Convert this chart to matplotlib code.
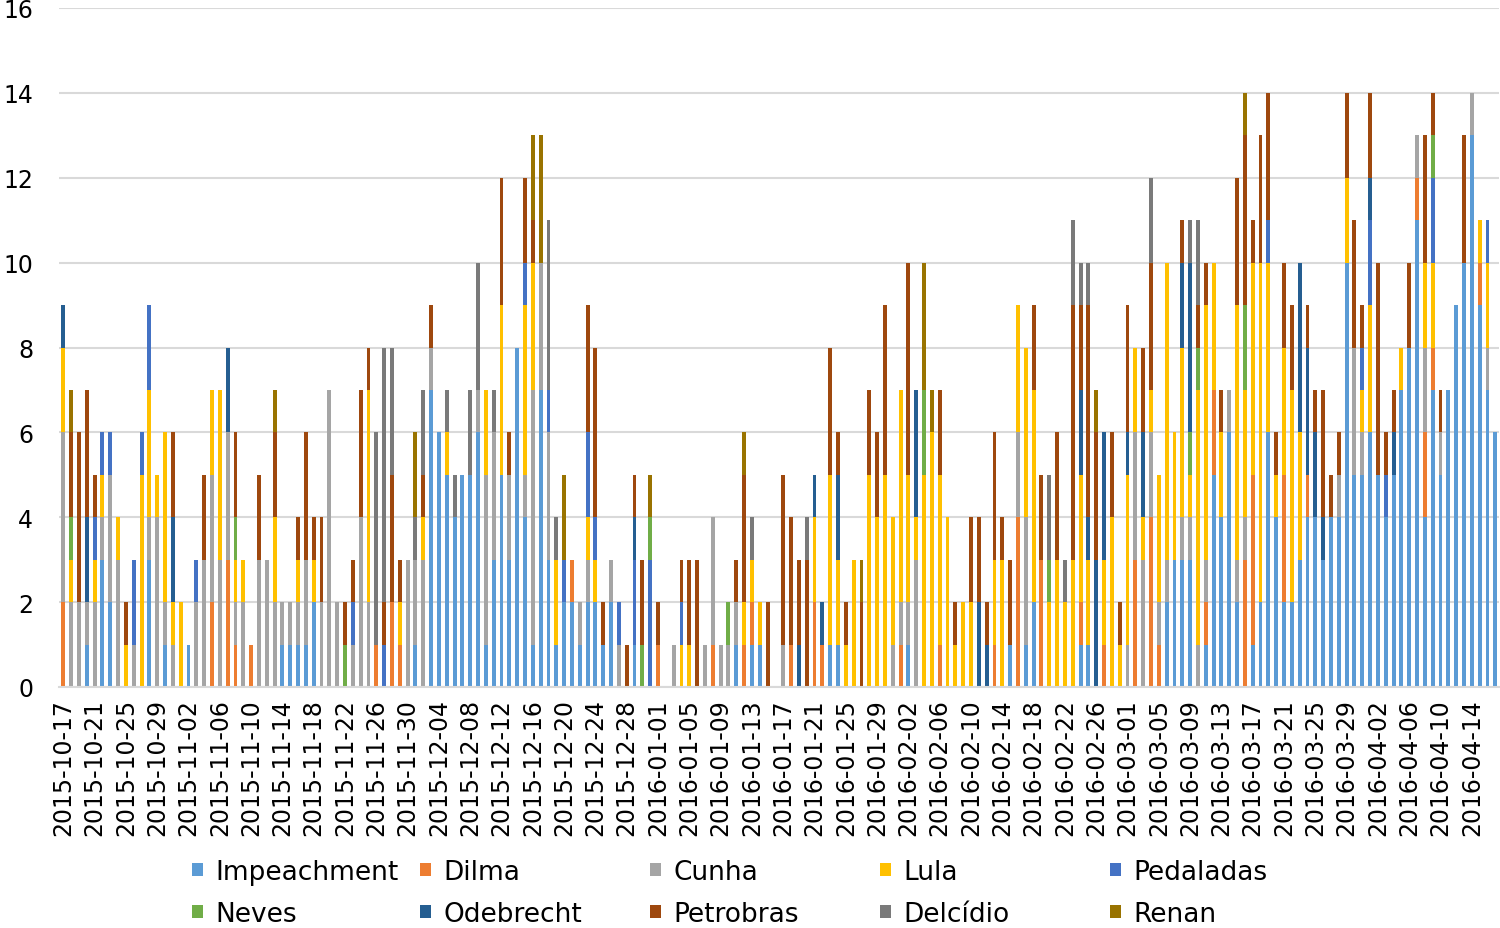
import numpy as np
import pandas as pd
import matplotlib
matplotlib.use('Agg')
import matplotlib.pyplot as plt

# daily counts, 2015-10-17 .. 2016-04-17
dates = pd.date_range('2015-10-17', periods=184)

impeachment = [
    0, 0, 0, 1, 0, 3, 2, 0, 0, 0,
    0, 3, 0, 1, 0, 0, 1, 0, 0, 0,
    0, 0, 0, 0, 0, 0, 0, 0, 1, 1,
    1, 1, 2, 0, 0, 0, 0, 0, 0, 0,
    0, 0, 0, 0, 0, 1, 0, 7, 6, 5,
    4, 5, 5, 6, 1, 3, 5, 3, 8, 4,
    1, 7, 3, 1, 2, 2, 1, 2, 2, 1,
    2, 0, 0, 1, 0, 0, 0, 0, 0, 0,
    0, 0, 0, 0, 0, 0, 1, 0, 1, 1,
    0, 0, 0, 0, 0, 0, 0, 0, 1, 1,
    0, 0, 0, 0, 0, 0, 0, 0, 1, 0,
    0, 0, 0, 0, 0, 0, 0, 0, 0, 0,
    0, 1, 0, 1, 2, 0, 0, 0, 0, 0,
    1, 1, 0, 0, 0, 0, 0, 0, 0, 0,
    0, 2, 3, 3, 3, 0, 1, 5, 4, 6,
    2, 0, 1, 2, 6, 4, 2, 2, 3, 4,
    4, 3, 4, 4, 10, 5, 5, 6, 5, 4,
    5, 7, 8, 11, 4, 7, 5, 7, 9, 10,
    13, 9, 7, 6]

dilma = [
    2, 0, 0, 0, 0, 0, 0, 0, 0, 0,
    0, 0, 0, 0, 0, 0, 0, 0, 0, 2,
    0, 3, 1, 0, 1, 0, 0, 0, 0, 0,
    0, 0, 0, 0, 0, 0, 0, 0, 0, 0,
    1, 0, 2, 1, 0, 0, 0, 0, 0, 0,
    0, 0, 0, 0, 0, 0, 0, 0, 0, 0,
    0, 0, 0, 0, 0, 1, 0, 0, 0, 0,
    0, 0, 0, 0, 0, 0, 1, 0, 0, 0,
    0, 0, 0, 1, 0, 0, 0, 1, 1, 0,
    0, 0, 0, 1, 0, 0, 2, 1, 0, 0,
    0, 0, 0, 0, 0, 0, 0, 1, 0, 0,
    0, 0, 1, 0, 0, 0, 0, 0, 0, 1,
    0, 0, 4, 0, 0, 3, 0, 0, 0, 0,
    1, 0, 0, 1, 0, 0, 0, 3, 0, 4,
    1, 0, 0, 0, 0, 0, 1, 2, 0, 0,
    0, 3, 4, 0, 0, 0, 3, 0, 0, 1,
    0, 0, 0, 0, 0, 0, 0, 0, 0, 0,
    0, 0, 0, 1, 2, 1, 0, 0, 0, 0,
    0, 1, 0, 0]

cunha = [
    4, 2, 2, 1, 2, 1, 3, 3, 0, 1,
    0, 1, 4, 1, 1, 0, 0, 2, 3, 3,
    3, 3, 1, 2, 0, 3, 3, 2, 1, 1,
    1, 2, 0, 2, 7, 2, 0, 1, 4, 2,
    0, 0, 0, 0, 3, 2, 3, 1, 0, 0,
    0, 0, 0, 1, 4, 3, 0, 2, 0, 1,
    6, 3, 3, 0, 0, 0, 1, 1, 0, 0,
    1, 1, 0, 0, 0, 0, 0, 0, 1, 0,
    0, 0, 1, 3, 1, 1, 1, 0, 0, 0,
    0, 0, 1, 0, 0, 0, 0, 0, 0, 0,
    0, 0, 0, 0, 0, 0, 1, 1, 1, 3,
    0, 0, 0, 0, 0, 0, 0, 0, 0, 0,
    0, 0, 2, 3, 0, 0, 0, 0, 0, 0,
    0, 0, 0, 0, 0, 0, 1, 3, 3, 2,
    1, 1, 0, 1, 1, 1, 1, 0, 0, 1,
    1, 1, 0, 0, 0, 0, 0, 0, 0, 0,
    0, 0, 0, 1, 0, 3, 1, 0, 0, 0,
    0, 0, 0, 1, 2, 0, 1, 0, 0, 0,
    1, 0, 1, 0]

lula = [
    2, 1, 0, 0, 1, 1, 0, 1, 1, 0,
    5, 3, 1, 4, 1, 2, 0, 0, 0, 2,
    4, 0, 1, 1, 0, 0, 0, 2, 0, 0,
    1, 0, 1, 0, 0, 0, 0, 0, 0, 5,
    0, 0, 0, 1, 0, 0, 1, 0, 0, 1,
    0, 0, 0, 0, 2, 0, 4, 0, 0, 4,
    3, 0, 0, 2, 0, 0, 0, 1, 1, 0,
    0, 0, 0, 0, 0, 0, 0, 0, 0, 1,
    1, 0, 0, 0, 0, 0, 0, 1, 1, 1,
    0, 0, 0, 0, 0, 0, 2, 0, 4, 2,
    1, 3, 0, 5, 4, 5, 3, 5, 3, 1,
    5, 6, 4, 4, 1, 2, 2, 0, 0, 2,
    3, 0, 3, 4, 5, 0, 2, 3, 2, 3,
    3, 2, 0, 2, 4, 1, 4, 2, 1, 1,
    3, 7, 3, 4, 1, 6, 6, 3, 2, 0,
    6, 3, 5, 8, 4, 1, 3, 5, 3, 0,
    0, 0, 0, 0, 2, 0, 1, 3, 0, 0,
    0, 1, 0, 0, 2, 2, 0, 0, 0, 0,
    0, 1, 2, 0]

pedaladas = [
    0, 0, 0, 0, 1, 1, 1, 0, 0, 2,
    1, 2, 0, 0, 0, 0, 0, 1, 0, 0,
    0, 0, 0, 0, 0, 0, 0, 0, 0, 0,
    0, 0, 0, 0, 0, 0, 0, 1, 0, 0,
    0, 1, 0, 0, 0, 0, 0, 0, 0, 0,
    0, 0, 0, 0, 0, 0, 0, 0, 0, 1,
    0, 0, 1, 0, 1, 0, 0, 2, 1, 0,
    0, 1, 0, 2, 0, 3, 0, 0, 0, 1,
    0, 0, 0, 0, 0, 0, 0, 0, 0, 0,
    0, 0, 0, 0, 0, 0, 0, 0, 0, 0,
    0, 0, 0, 0, 0, 0, 0, 0, 0, 0,
    0, 0, 0, 0, 0, 0, 0, 0, 0, 0,
    0, 0, 0, 0, 0, 0, 0, 0, 0, 0,
    0, 0, 0, 0, 0, 0, 0, 0, 0, 0,
    0, 0, 0, 0, 0, 0, 0, 0, 0, 0,
    0, 0, 0, 0, 1, 0, 0, 0, 0, 0,
    0, 0, 0, 0, 0, 0, 1, 2, 0, 1,
    0, 0, 0, 0, 0, 2, 0, 0, 0, 0,
    0, 0, 1, 0]

neves = [
    0, 1, 0, 0, 0, 0, 0, 0, 0, 0,
    0, 0, 0, 0, 0, 0, 0, 0, 0, 0,
    0, 0, 1, 0, 0, 0, 0, 0, 0, 0,
    0, 0, 0, 0, 0, 0, 1, 0, 0, 0,
    0, 0, 0, 0, 0, 0, 0, 0, 0, 0,
    0, 0, 0, 0, 0, 0, 0, 0, 0, 0,
    0, 0, 0, 0, 0, 0, 0, 0, 0, 0,
    0, 0, 0, 0, 1, 1, 0, 0, 0, 0,
    0, 0, 0, 0, 0, 1, 0, 0, 0, 0,
    0, 0, 0, 0, 0, 0, 0, 0, 0, 0,
    0, 0, 0, 0, 0, 0, 0, 0, 0, 0,
    2, 0, 0, 0, 0, 0, 0, 0, 0, 0,
    0, 0, 0, 0, 0, 0, 1, 0, 0, 0,
    0, 0, 0, 0, 0, 0, 0, 0, 0, 0,
    0, 0, 0, 0, 1, 1, 0, 0, 0, 0,
    0, 2, 0, 0, 0, 0, 0, 0, 0, 0,
    0, 0, 0, 0, 0, 0, 0, 0, 0, 0,
    0, 0, 0, 0, 0, 1, 0, 0, 0, 0,
    0, 0, 0, 0]

odebrecht = [
    1, 0, 0, 2, 0, 0, 0, 0, 0, 0,
    0, 0, 0, 0, 2, 0, 0, 0, 0, 0,
    0, 2, 0, 0, 0, 0, 0, 0, 0, 0,
    0, 0, 0, 0, 0, 0, 0, 0, 0, 0,
    0, 0, 0, 0, 0, 0, 0, 0, 0, 0,
    0, 0, 0, 0, 0, 0, 0, 0, 0, 0,
    0, 0, 0, 0, 0, 0, 0, 0, 0, 0,
    0, 0, 0, 1, 0, 0, 0, 0, 0, 0,
    0, 0, 0, 0, 0, 0, 0, 0, 0, 0,
    0, 0, 0, 0, 1, 0, 1, 1, 0, 2,
    0, 0, 0, 0, 0, 0, 0, 0, 0, 3,
    0, 0, 0, 0, 0, 0, 0, 2, 1, 0,
    0, 0, 0, 0, 0, 0, 0, 0, 0, 0,
    2, 1, 3, 3, 0, 0, 1, 0, 2, 0,
    0, 0, 0, 2, 4, 0, 0, 0, 0, 0,
    0, 0, 0, 0, 0, 0, 0, 0, 4, 3,
    2, 1, 0, 0, 0, 0, 0, 1, 0, 0,
    1, 0, 0, 0, 0, 0, 0, 0, 0, 0,
    0, 0, 0, 0]

petrobras = [
    0, 2, 4, 3, 1, 0, 0, 0, 1, 0,
    0, 0, 0, 0, 2, 0, 0, 0, 2, 0,
    0, 0, 2, 0, 0, 2, 0, 2, 0, 0,
    1, 3, 1, 2, 0, 0, 1, 1, 3, 1,
    0, 1, 3, 1, 0, 0, 1, 1, 0, 0,
    0, 0, 0, 0, 0, 0, 3, 1, 0, 2,
    1, 0, 0, 0, 0, 0, 0, 3, 4, 1,
    0, 0, 1, 1, 2, 0, 1, 0, 0, 1,
    2, 3, 0, 0, 0, 0, 1, 3, 0, 0,
    2, 0, 4, 3, 2, 3, 0, 0, 3, 1,
    1, 0, 2, 2, 2, 4, 0, 0, 5, 0,
    0, 0, 2, 0, 1, 0, 2, 2, 1, 3,
    1, 2, 0, 0, 2, 2, 0, 3, 0, 6,
    2, 5, 3, 0, 2, 1, 3, 0, 2, 3,
    0, 0, 0, 1, 0, 1, 1, 0, 1, 0,
    3, 4, 1, 3, 3, 1, 2, 2, 0, 1,
    1, 3, 1, 1, 2, 3, 1, 2, 5, 1,
    1, 0, 2, 0, 3, 1, 1, 0, 0, 3,
    0, 0, 0, 0]

delcidio = [
    0, 0, 0, 0, 0, 0, 0, 0, 0, 0,
    0, 0, 0, 0, 0, 0, 0, 0, 0, 0,
    0, 0, 0, 0, 0, 0, 0, 0, 0, 0,
    0, 0, 0, 0, 0, 0, 0, 0, 0, 0,
    5, 6, 3, 0, 0, 1, 2, 0, 0, 1,
    1, 0, 2, 3, 0, 1, 0, 0, 0, 0,
    0, 0, 4, 1, 0, 0, 0, 0, 0, 0,
    0, 0, 0, 0, 0, 0, 0, 0, 0, 0,
    0, 0, 0, 0, 0, 0, 0, 0, 1, 0,
    0, 0, 0, 0, 0, 1, 0, 0, 0, 0,
    0, 0, 0, 0, 0, 0, 0, 0, 0, 0,
    0, 0, 0, 0, 0, 0, 0, 0, 0, 0,
    0, 0, 0, 0, 0, 0, 2, 0, 1, 2,
    1, 1, 0, 0, 0, 0, 0, 0, 0, 2,
    0, 0, 0, 0, 1, 2, 0, 0, 0, 0,
    0, 0, 0, 0, 0, 0, 0, 0, 0, 0,
    0, 0, 0, 0, 0, 0, 0, 0, 0, 0,
    0, 0, 0, 0, 0, 0, 0, 0, 0, 0,
    0, 0, 0, 0]

renan = [
    0, 1, 0, 0, 0, 0, 0, 0, 0, 0,
    0, 0, 0, 0, 0, 0, 0, 0, 0, 0,
    0, 0, 0, 0, 0, 0, 0, 1, 0, 0,
    0, 0, 0, 0, 0, 0, 0, 0, 0, 0,
    0, 0, 0, 0, 0, 2, 0, 0, 0, 0,
    0, 0, 0, 0, 0, 0, 0, 0, 0, 0,
    2, 3, 0, 0, 2, 0, 0, 0, 0, 0,
    0, 0, 0, 0, 0, 1, 0, 0, 0, 0,
    0, 0, 0, 0, 0, 0, 0, 1, 0, 0,
    0, 0, 0, 0, 0, 0, 0, 0, 0, 0,
    0, 0, 1, 0, 0, 0, 0, 0, 0, 0,
    3, 1, 0, 0, 0, 0, 0, 0, 0, 0,
    0, 0, 0, 0, 0, 0, 0, 0, 0, 0,
    0, 0, 1, 0, 0, 0, 0, 0, 0, 0,
    0, 0, 0, 0, 0, 0, 0, 0, 0, 0,
    0, 1, 0, 0, 0, 0, 0, 0, 0, 0,
    0, 0, 0, 0, 0, 0, 0, 0, 0, 0,
    0, 0, 0, 0, 0, 0, 0, 0, 0, 0,
    0, 0, 0, 0]

series_names = ['Impeachment', 'Dilma', 'Cunha', 'Lula', 'Pedaladas',
                'Neves', 'Odebrecht', 'Petrobras', 'Delcídio', 'Renan']
series_values = [impeachment, dilma, cunha, lula, pedaladas,
                 neves, odebrecht, petrobras, delcidio, renan]
colors = ['#5B9BD5', '#ED7D31', '#A5A5A5', '#FFC000', '#4472C4',
          '#70AD47', '#255E91', '#9E480E', '#7A7A7A', '#997300']

W, H = 1500, 929
fig = plt.figure(figsize=(W / 100, H / 100), dpi=100)
ax = fig.add_axes([59.4 / W, 1 - 688 / H, (1499.2 - 59.4) / W, (688 - 9) / H])

x = np.arange(len(dates))
bottom = np.zeros(len(dates))
handles = []
for name, vals, color in zip(series_names, series_values, colors):
    vals = np.array(vals, dtype=float)
    h = ax.bar(x, vals, width=0.5, bottom=bottom, color=color, linewidth=0, label=name)
    handles.append(h)
    bottom += vals

ax.set_xlim(-0.5, len(dates) - 0.5)
ax.set_ylim(0, 16)
ax.set_yticks(range(0, 17, 2))
ax.yaxis.grid(True, color='#D9D9D9', linewidth=1.5)
ax.set_axisbelow(True)
for s in ['top', 'right', 'left']:
    ax.spines[s].set_visible(False)
ax.spines['bottom'].set_color('#D9D9D9')
ax.spines['bottom'].set_linewidth(1.5)

ax.set_xticks(x[::4])
ax.set_xticklabels([d.strftime('%Y-%m-%d') for d in dates[::4]], rotation=90)
ax.tick_params(axis='x', length=0, pad=8, labelsize=17)
ax.tick_params(axis='y', length=0, pad=19, labelsize=17)

# legend: 5 equal columns, 2 rows
col_x = [192, 420, 650, 880, 1110]
for c in range(5):
    fig.legend(handles=[handles[c], handles[c + 5]],
               labels=[series_names[c], series_names[c + 5]],
               loc='upper left', bbox_to_anchor=(col_x[c] / W, 1 - 860 / H),
               frameon=False, fontsize=19, borderpad=0, borderaxespad=0,
               handlelength=0.4, handleheight=0.4, handletextpad=0.5,
               labelspacing=0.6)

fig.savefig('out.png', dpi=100)
